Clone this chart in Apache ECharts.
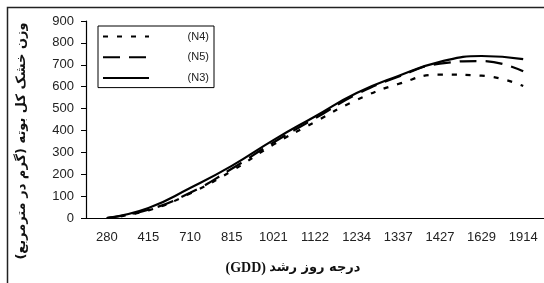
<!DOCTYPE html>
<html>
<head>
<meta charset="utf-8">
<script src="https://cdn.jsdelivr.net/npm/echarts@6/dist/echarts.min.js"></script>
<style>
  html, body { margin: 0; padding: 0; background: #fff; }
  #chart { width: 544px; height: 283px; }
</style>
</head>
<body>
<div id="chart"></div>
<script>
// GDD category labels
const gdd = ['280', '415', '710', '815', '1021', '1122', '1234', '1337', '1427', '1629', '1914']
// dry weight (g/m2)
const n4 = [0, 35, 112, 215, 335, 439, 539, 612, 655, 650, 603]
const n5 = [0, 38, 115, 225, 345, 455, 565, 645, 705, 717, 670]
const n3 = [0, 46, 137, 238, 356, 464, 571, 649, 713, 740, 726]
const yTicks = { min: 0, max: 900, step: 100 }

const chart = echarts.init(document.getElementById('chart'))

function line(name, data, type) {
  return {
    name: name,
    type: 'line',
    data: data,
    smooth: true,
    symbol: 'none',
    itemStyle: { color: '#000' },
    lineStyle: { color: '#000', width: 2.2, type: type }
  }
}

chart.setOption({
  backgroundColor: '#fff',
  animation: false,
  grid: { left: 86, right: 0, top: 21, bottom: 65 },
  legend: {
    orient: 'vertical',
    left: 98,
    top: 26,
    padding: [5, 5, 4, 4],
    itemWidth: 46,
    itemHeight: 14,
    itemGap: 9.5,
    borderColor: '#000',
    borderWidth: 1,
    itemStyle: { opacity: 0 },
    data: ['(N4)', '(N5)', '(N3)'],
    formatter: '{a|{name}}',
    textStyle: {
      rich: { a: { width: 55, align: 'right', fontSize: 11, fontFamily: 'Liberation Sans', color: '#222' } }
    }
  },
  xAxis: {
    type: 'category',
    data: gdd,
    boundaryGap: true,
    axisLine: { lineStyle: { color: '#000', width: 1.2 } },
    axisTick: { length: 5, lineStyle: { color: '#000' } },
    axisLabel: { interval: 0, margin: 13, fontSize: 13, fontFamily: 'Liberation Sans', color: '#222' }
  },
  yAxis: {
    type: 'value',
    min: yTicks.min,
    max: yTicks.max,
    interval: yTicks.step,
    splitLine: { show: false },
    axisLine: { show: true, lineStyle: { color: '#000', width: 1.2 } },
    axisTick: { show: true, length: 5, lineStyle: { color: '#000' } },
    axisLabel: { margin: 12, fontSize: 13, fontFamily: 'Liberation Sans', color: '#222' }
  },
  series: [
    line('(N4)', n4, [5, 9]),
    line('(N5)', n5, [17, 9]),
    line('(N3)', n3, 'solid')
  ],
  graphic: [
    {
      type: 'rect',
      silent: true,
      shape: { x: 7.5, y: 7.5, width: 600, height: 320 },
      style: { fill: 'none', stroke: '#222', lineWidth: 1.5 }
    },
    {
      type: 'text',
      x: 22,
      y: 141,
      rotation: Math.PI / 2,
      style: {
        text: 'وزن خشک کل بوته (گرم در مترمربع)',
        font: 'bold 13px "DejaVu Sans"',
        fill: '#111',
        align: 'center',
        verticalAlign: 'middle'
      }
    },
    {
      type: 'text',
      x: 293,
      y: 268,
      style: {
        text: '{g|(GDD)} {p|درجه روز رشد}',
        align: 'center',
        verticalAlign: 'middle',
        rich: {
          g: { font: 'bold 14px "Liberation Serif"', fill: '#111' },
          p: { font: 'bold 13px "DejaVu Sans"', fill: '#111' }
        }
      }
    }
  ]
})
</script>
</body>
</html>
